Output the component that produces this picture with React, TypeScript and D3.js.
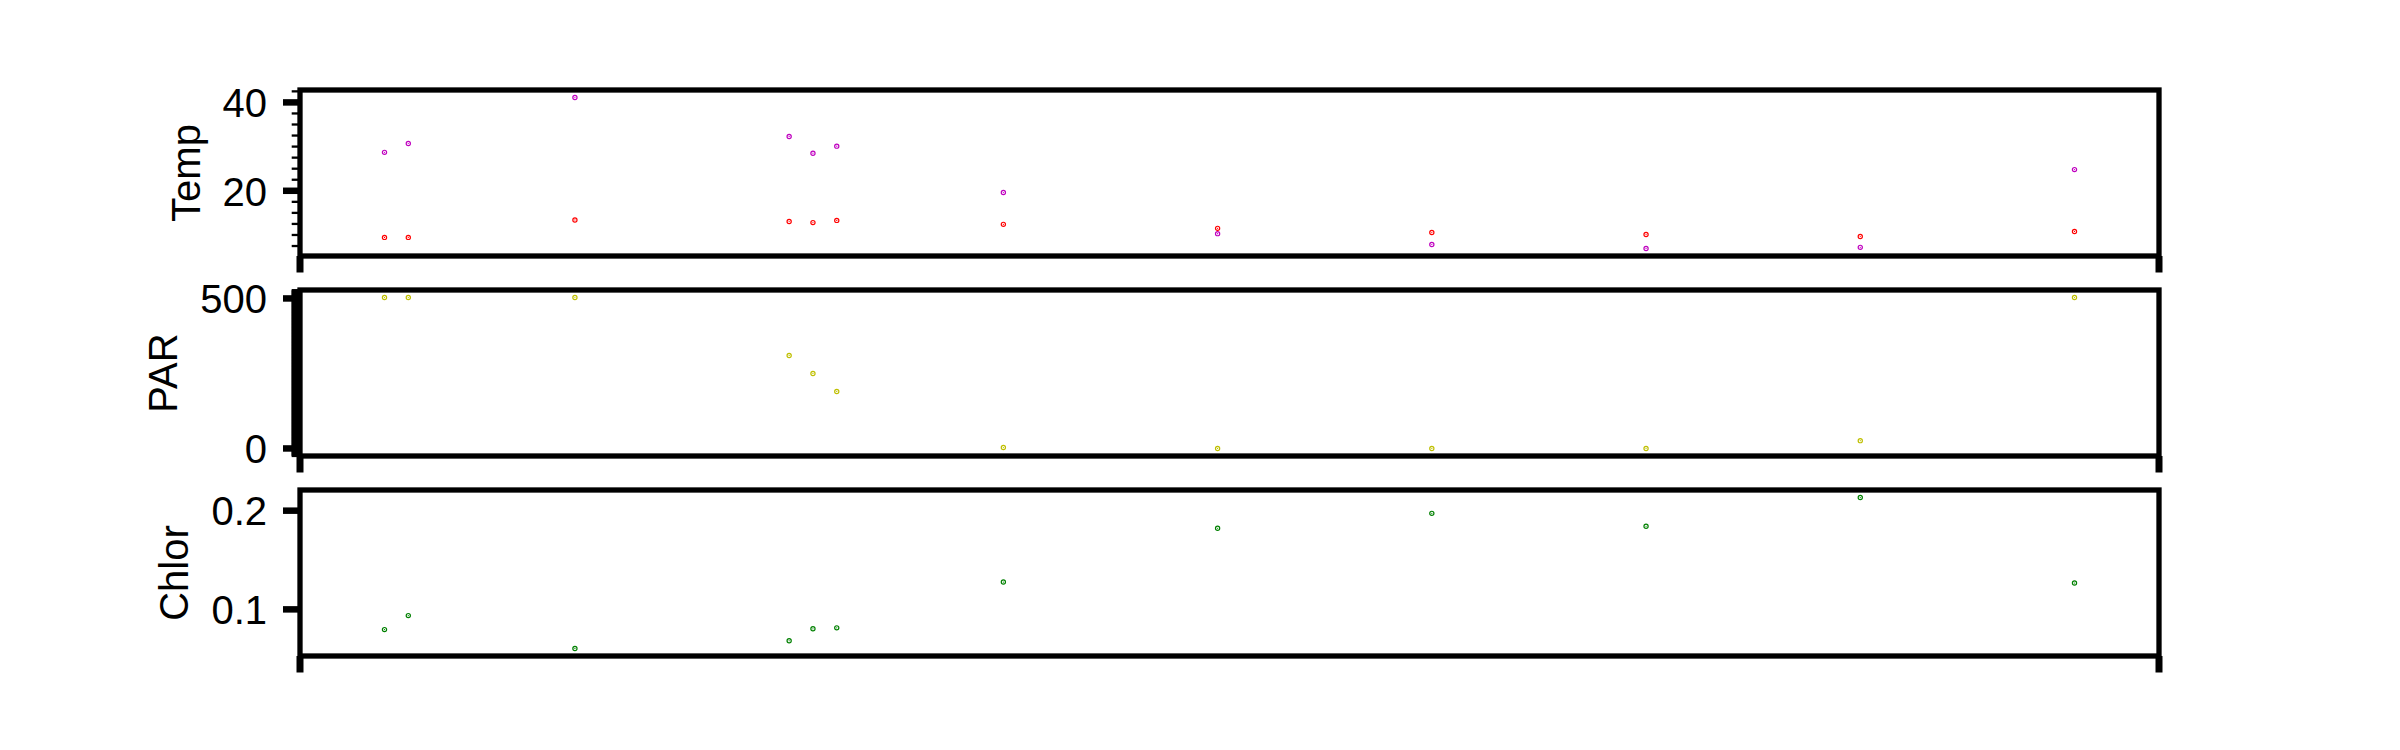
import React from 'react';
import * as d3 from 'd3';

// sampling day of each station visit
const days = [0, 1, 8, 17, 18, 19, 26, 35, 44, 53, 62, 71];

// temperature, two series
const tempHigh = [28.7, 30.7, 41.1, 32.3, 28.5, 30.1, 19.6, 10.3, 7.85, 6.95, 7.2, 24.8];
const tempLow = [9.45, 9.45, 13.4, 13.05, 12.8, 13.3, 12.4, 11.5, 10.55, 10.1, 9.65, 10.8];

const par = [503, 503, 503, 310, 250, 190, 3, 0, 0, 0, 26, 503];

const chlor = [0.0795, 0.0937, 0.0604, 0.0682, 0.0803, 0.0813, 0.1277, 0.1822, 0.1973, 0.1842, 0.2133, 0.1267];

const tempTicks = [20, 40];
const tempTickLabels = ['20', '40'];
const parTicks = [0, 500];
const parTickLabels = ['0', '500'];
const chlorTicks = [0.1, 0.2];
const chlorTickLabels = ['0.1', '0.2'];

const W = 2400;
const H = 750;
const left = 300;
const right = 2159;
const panelTops = [90, 290, 490];
const panelH = 166;
const minorStep = 2.5;
const font = '"Liberation Sans", Arial, sans-serif';
const fontSize = 40;

// matplotlib-like 5% margin round the data
const padded = (vals: number[]) => {
  const [lo, hi] = d3.extent(vals) as [number, number];
  const m = (hi - lo) * 0.05;
  return [lo - m, hi + m];
};

let ctx: CanvasRenderingContext2D | null = null;
const textWidth = (s: string) => {
  if (!ctx) ctx = document.createElement('canvas').getContext('2d');
  if (!ctx) return s.length * fontSize * 0.556;
  ctx.font = `${fontSize}px "Liberation Sans", Arial, sans-serif`;
  return ctx.measureText(s).width;
};

const panels = [
  {
    label: 'Temp',
    series: [
      { values: tempHigh, color: '#bf00bf' },
      { values: tempLow, color: '#ff0000' },
    ],
    ticks: tempTicks,
    tickLabels: tempTickLabels,
  },
  {
    label: 'PAR',
    series: [{ values: par, color: '#bfbf00' }],
    ticks: parTicks,
    tickLabels: parTickLabels,
  },
  {
    label: 'Chlor',
    series: [{ values: chlor, color: '#008000' }],
    ticks: chlorTicks,
    tickLabels: chlorTickLabels,
  },
];

const Marker = ({ cx, cy, color }: { cx: number; cy: number; color: string }) => (
  <g>
    <circle cx={cx} cy={cy} r={2.1} fill="none" stroke={color} strokeWidth={1.2} />
    <circle cx={cx} cy={cy} r={0.6} fill={color} />
  </g>
);

export default function App() {
  const x = d3.scaleLinear().domain(padded(days)).range([left, right]);
  const xEnds = x.domain();

  return (
    <svg
      width={W}
      height={H}
      style={{ position: 'absolute', left: 0, top: 0, background: '#fff' }}
      fontFamily={font}
    >
      {panels.map((p, i) => {
        const top = panelTops[i];
        const bottom = top + panelH;
        const y = d3
          .scaleLinear()
          .domain(padded(p.series.flatMap((s) => s.values)))
          .range([bottom, top]);
        const [lo, hi] = y.domain();
        const minors = d3
          .range(Math.ceil(lo / minorStep) * minorStep, hi, minorStep)
          .filter((t) => !p.ticks.some((m) => Math.abs(m - t) < 1e-9));
        const labelLeft = left - 33 - d3.max(p.tickLabels, (s) => textWidth(s))!;
        const labelX = labelLeft - 23;

        return (
          <g key={p.label}>
            {p.series.map((s) =>
              s.values.map((v, j) => (
                <Marker key={s.color + j} cx={x(days[j])} cy={y(v)} color={s.color} />
              ))
            )}

            {minors.map((t) => (
              <line key={'m' + t} x1={left - 8.3} x2={left} y1={y(t)} y2={y(t)} stroke="#000" strokeWidth={2.3} />
            ))}
            {p.ticks.map((t, k) => (
              <g key={'t' + t}>
                <line x1={left - 17} x2={left} y1={y(t)} y2={y(t)} stroke="#000" strokeWidth={6.5} />
                <text
                  x={left - 33}
                  y={y(t)}
                  dy="0.37em"
                  textAnchor="end"
                  fontSize={fontSize}
                  fill="#000"
                >
                  {p.tickLabels[k]}
                </text>
              </g>
            ))}
            {xEnds.map((d) => (
              <line key={'x' + d} x1={x(d)} x2={x(d)} y1={bottom} y2={bottom + 16.5} stroke="#000" strokeWidth={7} />
            ))}

            <rect x={left} y={top} width={right - left} height={panelH} fill="none" stroke="#000" strokeWidth={5.3} />

            <text
              transform={`translate(${labelX},${(top + bottom) / 2}) rotate(-90)`}
              textAnchor="middle"
              fontSize={fontSize}
              fill="#000"
            >
              {p.label}
            </text>
          </g>
        );
      })}
    </svg>
  );
}
